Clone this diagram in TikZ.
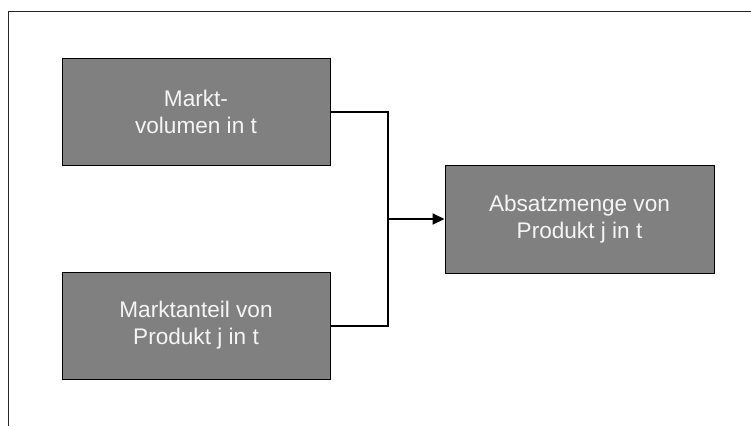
\documentclass[tikz,border=0pt]{standalone}
\usepackage{fontspec}
\setmainfont{Liberation Sans}
\usetikzlibrary{arrows.meta}
\definecolor{boxgray}{RGB}{128,128,128}
\definecolor{textwhite}{RGB}{245,245,245}
\begin{document}
\begin{tikzpicture}[x=1pt,y=-1pt]
		\tikzstyle{every node}=[font=\fontsize{22.6pt}{27pt}\selectfont]
		\tikzstyle{block}=[draw=black, line width=1pt, fill=boxgray, text=textwhite, align=center, minimum width=268pt, minimum height=107pt, inner sep=0pt]
		\tikzstyle{link}=[line width=2pt, black]
		\useasboundingbox (0,0) rectangle (751,426);
		\draw [line width=1pt, black!85] (751,11) -- (8,11) -- (8,426);
		
		\node [block] (volume) at (196,111.5) {Markt-\\volumen in t};
		\node [block] (share) at (196,325.5) {Marktanteil von\\Produkt j in t};
		\node [block, minimum width=269pt, minimum height=108pt] (sales) at (579.5,219) {Absatzmenge von\\Produkt j in t};
		
		\coordinate (join) at (388,219);
		\draw [link] (volume.east) -| (join);
		\draw [link] (share.east) -| (join);
		\draw [link, -{Triangle[length=12pt,width=11pt]}] (join) -- (sales.west);
	\end{tikzpicture}
\end{document}
